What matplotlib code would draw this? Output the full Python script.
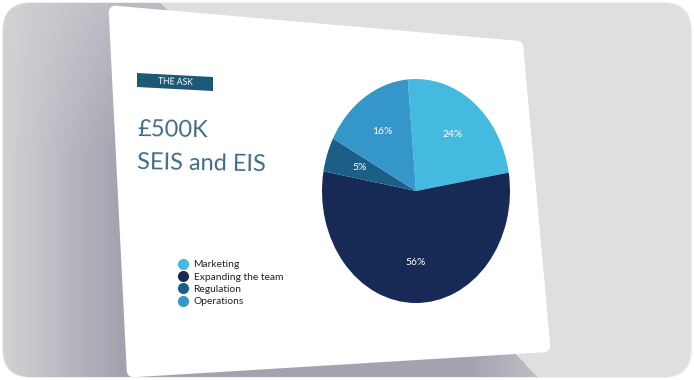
import numpy as np
import matplotlib.pyplot as plt
from matplotlib.patches import FancyBboxPatch, Polygon
from matplotlib.path import Path
from matplotlib.lines import Line2D

# pie data
categories = ['Marketing', 'Expanding the team', 'Regulation', 'Operations']
shares = [24, 56, 5, 16]
colors = ['#45bae1', '#172a56', '#1b5f86', '#3596c9']
pct_labels = [f'{v}%' for v in shares]

plt.rcParams['font.family'] = ['Lato', 'DejaVu Sans']

W, H = 694, 380
fig = plt.figure(figsize=(W / 100, H / 100), dpi=100, facecolor='white')

# background in pixel coordinates
bg = fig.add_axes([0, 0, 1, 1])
bg.set_xlim(0, W)
bg.set_ylim(H, 0)
bg.axis('off')

frame = FancyBboxPatch((3, 3), W - 6, H - 6, boxstyle='round,pad=0,rounding_size=28',
                       fc='#e0e0e0', ec='#eeeeee', lw=1.5, zorder=1)
bg.add_patch(frame)

# shadow left of / under the slide
yy, xx = np.mgrid[0:H, 0:W] + 0.5
shadow = Path([(0, 0), (158, 0), (175, 18), (512, 350), (540, 380), (0, 380)])
inside = shadow.contains_points(np.c_[xx.ravel(), yy.ravel()]).reshape(H, W)
light = np.array([0.878, 0.878, 0.878])
c0 = np.array([0.83, 0.83, 0.84])
c1 = np.array([0.645, 0.637, 0.69])
t = np.clip(xx / 120, 0, 1) * (0.5 + 0.5 * np.clip(yy / 150, 0, 1))
edge = np.clip((xx - 470) / 70, 0, 1)
t = t * (1 - 0.6 * edge)
img = c0 + (c1 - c0) * t[..., None]
img[~inside] = light
im = bg.imshow(img, extent=(0, W, H, 0), zorder=2, interpolation='bilinear')
im.set_clip_path(frame)

# the slide
slide = Polygon([(115, 12), (517, 47), (544, 346), (133, 371)], closed=True,
                fc='white', ec='white', lw=9, joinstyle='round', zorder=3)
bg.add_patch(slide)

# heading band
band = Polygon([(137, 73), (213, 77), (213, 91), (137, 87)], closed=True,
               fc='#1d5877', ec='none', zorder=4)
bg.add_patch(band)
bg.text(175, 82.5, 'THE ASK', color='white', fontsize=6.2, ha='center', va='center',
        rotation=-2, zorder=5)
bg.text(137, 137, '£500K', color='#3f6b86', fontsize=17,
        ha='left', va='baseline', rotation=-1, zorder=5)
bg.text(137, 171, 'SEIS and EIS', color='#3f6b86', fontsize=17,
        ha='left', va='baseline', rotation=-1, zorder=5)

# pie, squeezed by the slide's perspective
cx, cy, rx, ry = 416, 191, 94, 112
pax = fig.add_axes([(cx - rx) / W, 1 - (cy + ry) / H, 2 * rx / W, 2 * ry / H])
pax.set_zorder(6)
wedges, texts = pax.pie(shares, colors=colors, startangle=95, counterclock=False,
                        labels=pct_labels, labeldistance=0.64,
                        textprops=dict(color='white', fontsize=7.5, ha='center', va='center'),
                        wedgeprops=dict(lw=0.3, ec='none'))
pax.set_aspect('auto')
pax.set_xlim(-1, 1)
pax.set_ylim(-1, 1)

handles = [Line2D([], [], ls='none', marker='o', ms=8, mfc=c, mec='none') for c in colors]
leg = fig.legend(handles, categories, loc='upper left',
                 bbox_to_anchor=(173 / W, 1 - 255 / H), frameon=False,
                 fontsize=7.4, handlelength=0.9, handletextpad=0.6,
                 labelspacing=0.3, borderpad=0, labelcolor='#222222')
leg.set_zorder(7)

fig.savefig('out.png', dpi=100, facecolor='white')
